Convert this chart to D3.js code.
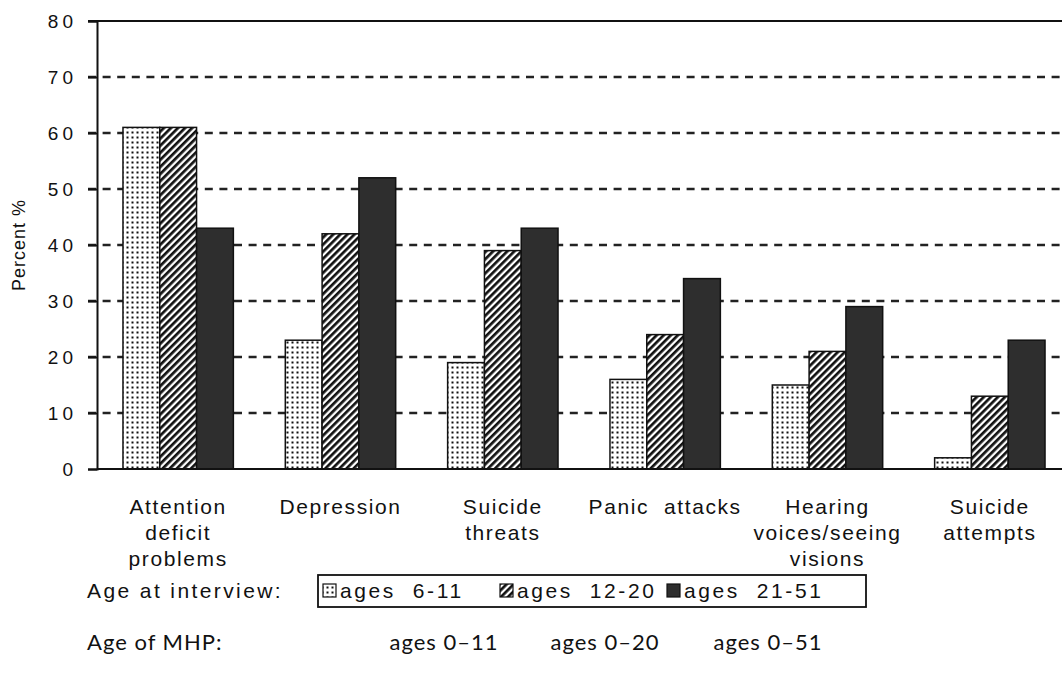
<!DOCTYPE html>
<html>
<head>
<meta charset="utf-8">
<script src="https://cdn.jsdelivr.net/npm/d3@7"></script>
<style>
  body { margin: 0; background: #fff; }
  svg text { fill: #111; }
</style>
</head>
<body>
<svg id="chart" width="1062" height="690"></svg>
<script>
const categories = [
  ["Attention", "deficit", "problems"],
  ["Depression"],
  ["Suicide", "threats"],
  ["Panic  attacks"],
  ["Hearing", "voices/seeing", "visions"],
  ["Suicide", "attempts"]
];
const seriesNames = ["ages  6-11", "ages  12-20", "ages  21-51"];
const ages611 = [61, 23, 19, 16, 15, 2];
const ages1220 = [61, 42, 39, 24, 21, 13];
const ages2151 = [43, 52, 43, 34, 29, 23];
const mhpLabels = ["ages 0–11", "ages 0–20", "ages 0–51"];
const yTicks = [0, 10, 20, 30, 40, 50, 60, 70, 80];

const series = [ages611, ages1220, ages2151];
const SANS = "'Liberation Sans', Arial, Helvetica, sans-serif";
const GEO = "Lato, 'Noto Sans', sans-serif";
const svg = d3.select("#chart");
const defs = svg.append("defs");

// patterns
const pDot = defs.append("pattern").attr("id", "dots").attr("patternUnits", "userSpaceOnUse")
  .attr("width", 5).attr("height", 5);
pDot.append("rect").attr("width", 5).attr("height", 5).attr("fill", "#fff");
pDot.append("rect").attr("x", 1.5).attr("y", 1.5).attr("width", 2).attr("height", 2).attr("fill", "#111");

const pHatch = defs.append("pattern").attr("id", "hatch").attr("patternUnits", "userSpaceOnUse")
  .attr("width", 5).attr("height", 5).attr("patternTransform", "rotate(45)");
pHatch.append("rect").attr("width", 5).attr("height", 5).attr("fill", "#fff");
pHatch.append("rect").attr("x", 0).attr("width", 2.7).attr("height", 5).attr("fill", "#111");

const fills = ["url(#dots)", "url(#hatch)", "#2e2e2e"];

const x0 = d3.scaleBand().domain(d3.range(categories.length)).range([97, 1071])
  .paddingInner(0.32).paddingOuter(0.16);
const x1 = d3.scaleBand().domain(d3.range(3)).range([0, x0.bandwidth()]);
const y = d3.scaleLinear().domain([0, 80]).range([469, 21]);

// grid lines
svg.append("g").selectAll("line").data(yTicks.filter(t => t > 0 && t < 80)).join("line")
  .attr("x1", 88).attr("x2", 1062)
  .attr("y1", d => y(d)).attr("y2", d => y(d))
  .attr("stroke", "#222").attr("stroke-width", 2.5).attr("stroke-dasharray", "8,6.6");

// top solid line
svg.append("line").attr("x1", 88).attr("x2", 1062).attr("y1", y(80)).attr("y2", y(80))
  .attr("stroke", "#111").attr("stroke-width", 2);

// bars
const g = svg.append("g");
categories.forEach((c, i) => {
  series.forEach((s, j) => {
    g.append("rect")
      .attr("x", x0(i) + x1(j))
      .attr("y", y(s[i]))
      .attr("width", x1.bandwidth())
      .attr("height", y(0) - y(s[i]))
      .attr("fill", fills[j])
      .attr("stroke", "#111").attr("stroke-width", 1.5);
  });
});

// y axis
const yAxis = d3.axisLeft(y).tickValues(yTicks).tickSize(9).tickPadding(11).tickFormat(d3.format("d"));
const ya = svg.append("g").attr("transform", "translate(97,0)").call(yAxis);
ya.select(".domain").attr("stroke", "#111").attr("stroke-width", 2);
ya.selectAll(".tick line").attr("stroke", "#111").attr("stroke-width", 2);
ya.selectAll(".tick text").attr("font-size", 19).attr("letter-spacing", "4px")
  .attr("font-family", SANS).attr("fill", "#111");

// bottom axis line
svg.append("line").attr("x1", 97).attr("x2", 1062).attr("y1", y(0)).attr("y2", y(0))
  .attr("stroke", "#111").attr("stroke-width", 2);

// category labels
const lab = svg.append("g");
categories.forEach((lines, i) => {
  const cx = x0(i) + x0.bandwidth() / 2;
  lines.forEach((ln, k) => {
    lab.append("text").attr("x", cx).attr("y", 514 + k * 26)
      .attr("text-anchor", "middle").attr("font-size", 21).attr("letter-spacing", "1.6px")
      .attr("font-family", SANS).style("white-space", "pre").text(ln);
  });
});

// y label
svg.append("text").attr("transform", "translate(25,245) rotate(-90)")
  .attr("text-anchor", "middle").attr("font-size", 18).attr("letter-spacing", "1px")
  .attr("font-family", SANS).text("Percent %");

// legend
svg.append("text").attr("x", 87).attr("y", 598).attr("font-size", 21).attr("letter-spacing", "2.4px")
  .attr("font-family", SANS).text("Age at interview:");
svg.append("rect").attr("x", 318).attr("y", 575).attr("width", 548).attr("height", 32)
  .attr("fill", "none").attr("stroke", "#111").attr("stroke-width", 1.8);
const legX = [323, 500, 667];
seriesNames.forEach((n, j) => {
  svg.append("rect").attr("x", legX[j]).attr("y", 584).attr("width", 13).attr("height", 13)
    .attr("fill", fills[j]).attr("stroke", "#111").attr("stroke-width", 1.2);
  svg.append("text").attr("x", legX[j] + 17).attr("y", 598).attr("font-size", 21)
    .attr("letter-spacing", "2.6px").attr("font-family", SANS)
    .style("white-space", "pre").text(n);
});

svg.append("text").attr("x", 87).attr("y", 650).attr("font-size", 22).attr("letter-spacing", "1px")
  .attr("font-family", GEO).text("Age of MHP:");
const mhpX = [444, 605, 768];
mhpLabels.forEach((t, j) => {
  svg.append("text").attr("x", mhpX[j]).attr("y", 650).attr("font-size", 22)
    .attr("text-anchor", "middle").attr("letter-spacing", "1px")
    .attr("font-family", GEO).text(t);
});
</script>
</body>
</html>
